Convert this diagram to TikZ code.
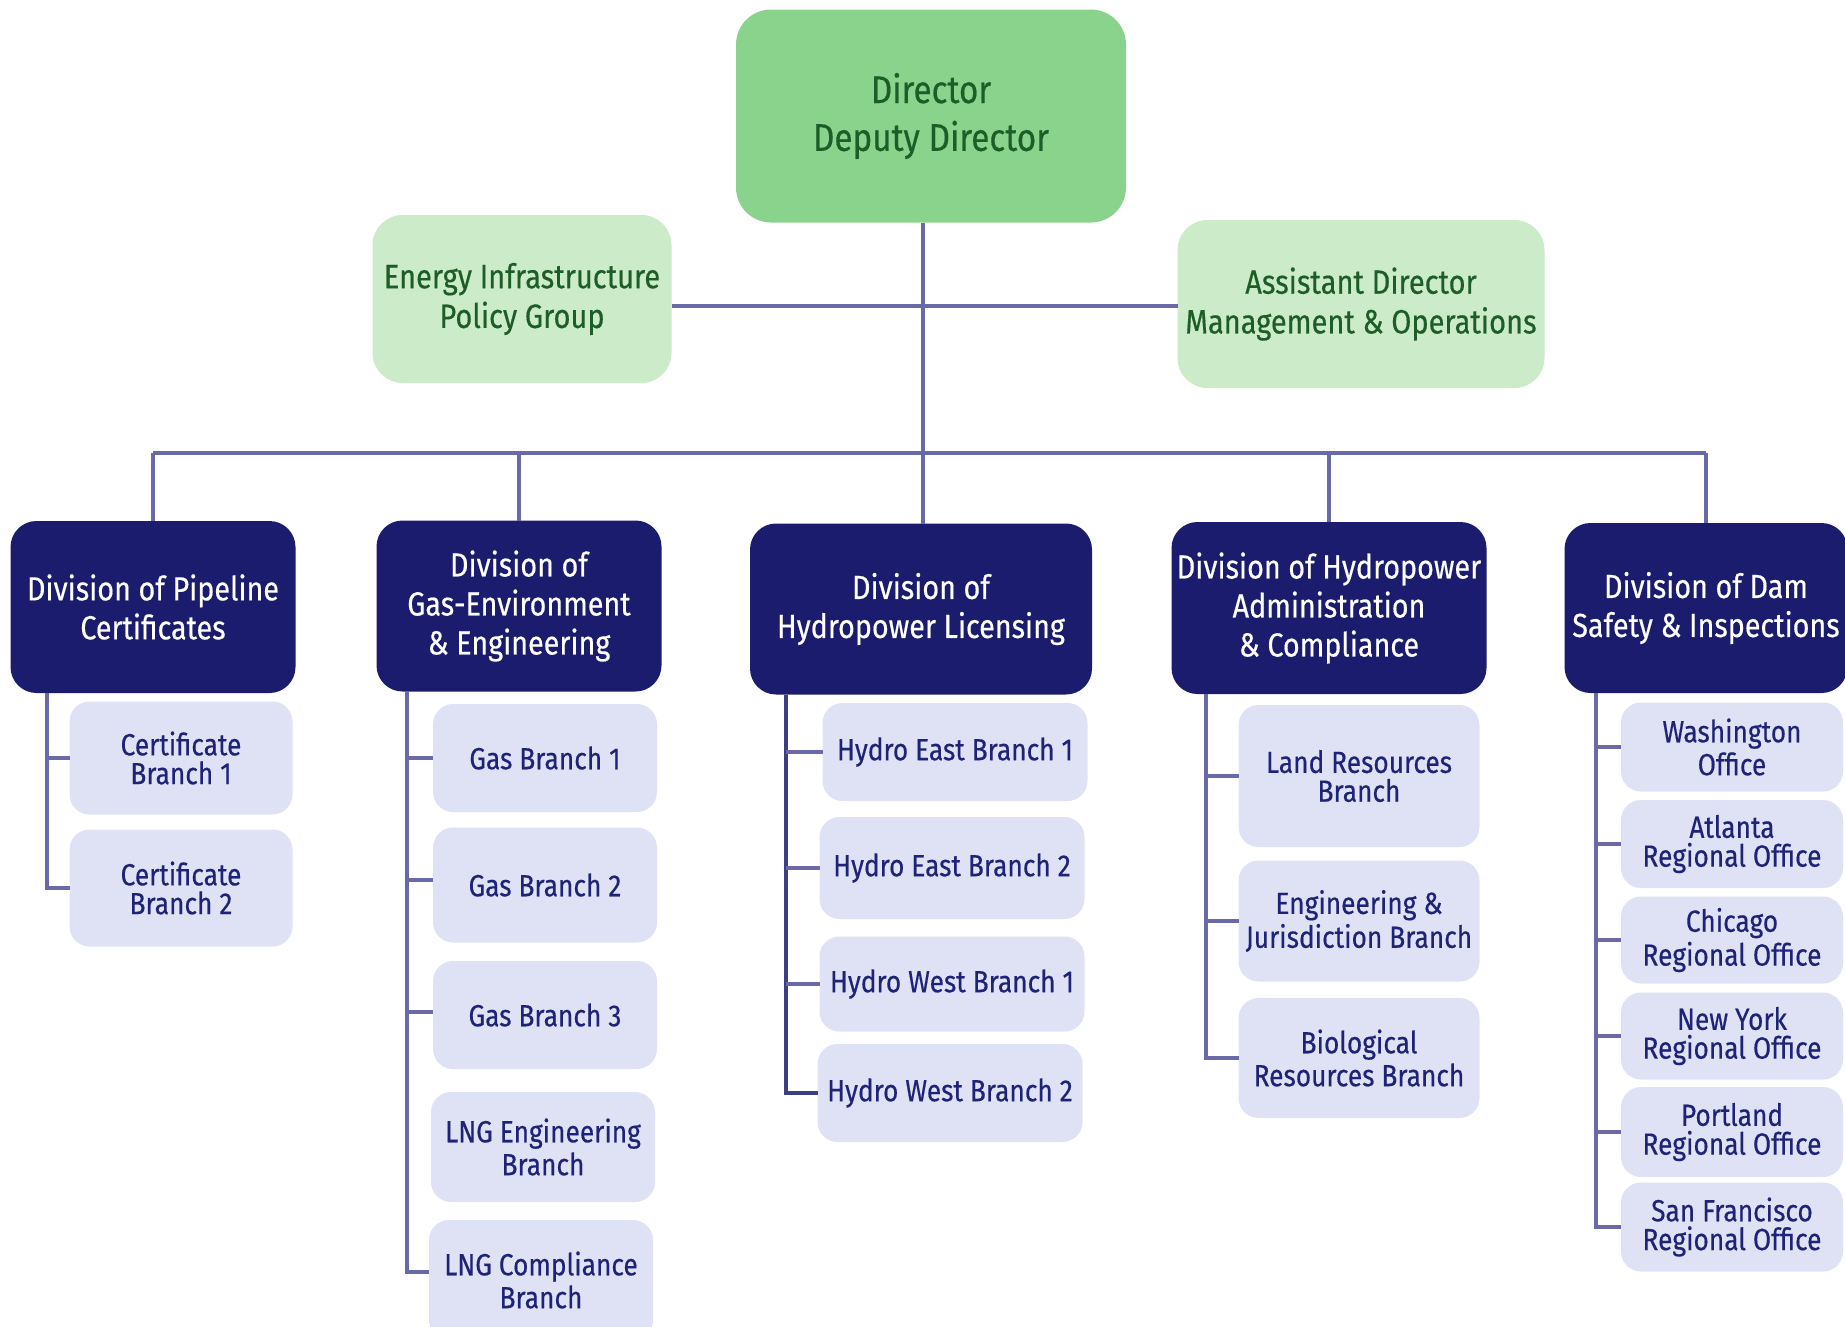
\documentclass[tikz,border=0pt]{standalone}
\usepackage{fontspec}
\setmainfont[FakeStretch=0.86,FakeBold=0.4]{Fira Sans}
\definecolor{dirgreen}{HTML}{8AD38C}
\definecolor{staffgreen}{HTML}{CCEBC8}
\definecolor{txtgreen}{HTML}{1D5E28}
\definecolor{navy}{HTML}{1C1C6E}
\definecolor{lavender}{HTML}{DFE2F4}
\definecolor{navytext}{HTML}{1E2378}
\definecolor{linkcol}{HTML}{6A6AA8}
\tikzset{
  box/.style={inner sep=0pt, outer sep=0pt, align=center},
  boxsize/.style 2 args={minimum width=#1*0.1mm, minimum height=#2*0.1mm},
  director/.style={box, rounded corners=3.5mm, fill=dirgreen, text=txtgreen, font=\fontsize{11}{13.6}\selectfont},
  staff/.style={box, rounded corners=3mm, fill=staffgreen, text=txtgreen, font=\fontsize{9.6}{11.3}\selectfont},
  division/.style={box, rounded corners=2.6mm, fill=navy, text=white, font=\fontsize{9.5}{11.1}\selectfont},
  branch/.style={box, rounded corners=2mm, fill=lavender, text=navytext, font=\fontsize{8.7}{8.2}\selectfont},
  link/.style={draw=linkcol, line width=1pt},
}
\begin{document}
\begin{tikzpicture}[x=0.1mm, y=-0.1mm]
  \useasboundingbox (0,0) rectangle (1845,1326);
  \clip (0,0) rectangle (1845,1326);

  %% top
  \node[director, boxsize={390}{213}] (dir) at (931,116) {Director\\Deputy Director};
  \node[staff, boxsize={299}{168}] (eipg) at (522,299) {Energy Infrastructure\\Policy Group};
  \node[staff, boxsize={367}{168}] (adm) at (1361,304) {Assistant Director\\Management \& Operations};

  %% divisions
  \node[division, boxsize={285}{172}] (pipe) at (153,607) {Division of Pipeline\\Certificates};
  \node[division, boxsize={285}{171}] (gas) at (519,606) {Division of\\Gas-Environment\\\& Engineering};
  \node[division, boxsize={342}{171}] (hydl) at (921,609) {Division of\\Hydropower Licensing};
  \node[division, boxsize={315}{172}] (hyda) at (1329,608) {Division of Hydropower\\Administration\\\& Compliance};
  \node[division, boxsize={283}{170}] (dam) at (1706,608) {Division of Dam\\Safety \& Inspections};

  %% pipeline branches
  \node[branch, boxsize={223}{113}] (cert1) at (181,758) {Certificate\\Branch 1};
  \node[branch, boxsize={223}{117}] (cert2) at (181,888) {Certificate\\Branch 2};

  %% gas branches
  \node[branch, boxsize={224}{108}] (gas1) at (545,758) {Gas Branch 1};
  \node[branch, boxsize={224}{115}] (gas2) at (545,885) {Gas Branch 2};
  \node[branch, boxsize={224}{108}] (gas3) at (545,1015) {Gas Branch 3};
  \node[branch, boxsize={224}{110}] (lnge) at (543,1147) {LNG Engineering\\Branch};
  \node[branch, boxsize={224}{120}] (lngc) at (541,1280) {LNG Compliance\\Branch};

  %% hydro licensing branches
  \node[branch, boxsize={265}{98}] (he1) at (955,752) {Hydro East Branch 1};
  \node[branch, boxsize={265}{102}] (he2) at (952,868) {Hydro East Branch 2};
  \node[branch, boxsize={265}{95}] (hw1) at (952,984) {Hydro West Branch 1};
  \node[branch, boxsize={265}{98}] (hw2) at (950,1093) {Hydro West Branch 2};

  %% hydropower administration branches
  \node[branch, boxsize={241}{142}] (land) at (1359,776) {Land Resources\\Branch};
  \node[branch, boxsize={241}{121}] (eng) at (1359,921) {Engineering \&\\Jurisdiction Branch};
  \node[branch, boxsize={241}{120}] (bio) at (1359,1058) {Biological\\Resources Branch};

  %% dam safety offices
  \node[branch, boxsize={222}{89}] (wash) at (1732,747) {Washington\\Office};
  \node[branch, boxsize={222}{88}] (atl) at (1732,844) {Atlanta\\Regional Office};
  \node[branch, boxsize={222}{87}] (chi) at (1732,940) {Chicago\\Regional Office};
  \node[branch, boxsize={222}{87}] (ny) at (1732,1036) {New York\\Regional Office};
  \node[branch, boxsize={222}{90}] (port) at (1732,1132) {Portland\\Regional Office};
  \node[branch, boxsize={222}{89}] (sf) at (1732,1227) {San Francisco\\Regional Office};

  %% trunk and bus
  \coordinate (trunk) at (923,0);
  \coordinate (staffbus) at (923,306);
  \coordinate (bus) at (923,453);
  \draw[link] (trunk |- dir.south) -- (trunk |- hydl.north);
  \draw[link] (eipg.east |- staffbus) -- (adm.west |- staffbus);
  \draw[link] (pipe.north |- bus) -- (dam.north |- bus);
  \foreach \d in {pipe,gas,hyda,dam}
    \draw[link] (\d.north |- bus) -- (\d.north);

  %% spines
  \coordinate (sp1) at (47,0);
  \coordinate (sp2) at (407,0);
  \coordinate (sp3) at (786,0);
  \coordinate (sp4) at (1206,0);
  \coordinate (sp5) at (1596,0);
  \draw[link] (sp1 |- pipe.south) |- (cert2.west);
  \draw[link] (sp1 |- cert1.west) -- (cert1.west);
  \draw[link] (sp2 |- gas.south) |- ([yshift=0.8mm]lngc.west);
  \foreach \b/\dy in {gas1/0mm,gas2/0.5mm,gas3/0.3mm}
    \draw[link] ([yshift=\dy]sp2 |- \b.west) -- ([yshift=\dy]\b.west);
  \draw[link, draw=navy!85] (sp3 |- hydl.south) |- (hw2.west);
  \foreach \b in {he1,he2,hw1}
    \draw[link] (sp3 |- \b.west) -- (\b.west);
  \draw[link] (sp4 |- hyda.south) |- (bio.west);
  \foreach \b in {land,eng}
    \draw[link] (sp4 |- \b.west) -- (\b.west);
  \draw[link] (sp5 |- dam.south) |- (sf.west);
  \foreach \b in {wash,atl,chi,ny,port}
    \draw[link] (sp5 |- \b.west) -- (\b.west);

\end{tikzpicture}
\end{document}
